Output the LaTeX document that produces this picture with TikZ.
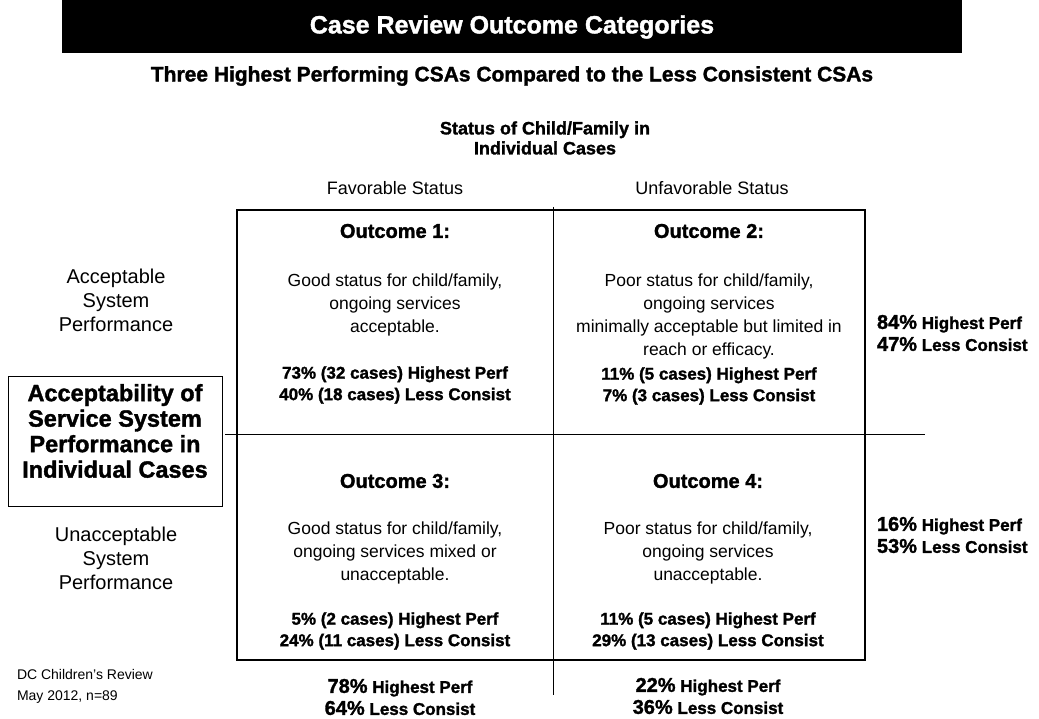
\documentclass[tikz,border=0pt]{standalone}
\usepackage{fontspec}
\setmainfont{Liberation Sans}
\newfontface\heavy{Liberation Sans Bold}[FakeBold=1.5]
\newcommand{\pct}[1]{{\fontsize{20}{22}\selectfont #1}}
\begin{document}
\begin{tikzpicture}[x=1pt,y=1pt,
  every node/.style={inner sep=0pt, outer sep=0pt, align=center},
  body/.style={font=\fontsize{17.5}{23}\selectfont},
  colhead/.style={font=\fontsize{18}{22}\selectfont},
  side/.style={font=\fontsize{20}{24}\selectfont},
  outc/.style={font=\heavy\fontsize{20}{23}\selectfont},
  stat/.style={font=\heavy\fontsize{17}{21.5}\selectfont},
  bigstat/.style={font=\heavy\fontsize{17}{22}\selectfont},
  heading/.style={font=\heavy\fontsize{21}{22}\selectfont},
  grid/.style={line width=1pt},
  frame/.style={line width=2.5pt}
]
\useasboundingbox (0,0) rectangle (1039,-719);
% banner
\fill[black] (62,0) rectangle (962,-53);
\node[font=\heavy\fontsize{25}{27}\selectfont, text=white] (title) at (512,-27) {Case Review Outcome Categories};
\node[heading] (sub) at (512,-76) {Three Highest Performing CSAs Compared to the Less Consistent CSAs};
\node[font=\heavy\fontsize{18}{20}\selectfont] (status) at (545,-138) {Status of Child/Family in\\Individual Cases};
\node[colhead] (fav) at (395,-188) {Favorable Status};
\node[colhead] (unfav) at (712,-188) {Unfavorable Status};
% grid
\draw[grid] (553,-207) -- (553,-695);
\draw[grid] (225,-434) -- (925,-434);
\draw[frame] (237,-210) rectangle (865,-660);
% left box
\draw[line width=1pt] (8,-376) rectangle (222,-506);
\node[font=\heavy\fontsize{23.5}{25.5}\selectfont] (acc) at (115,-431) {Acceptability of\\Service System\\Performance in\\Individual Cases};
\node[side] (accsys) at (116,-300) {Acceptable\\System\\Performance};
\node[side] (unaccsys) at (116,-558) {Unacceptable\\System\\Performance};
% quadrants
\node[outc] (o1) at (395,-231) {Outcome 1:};
\node[outc] (o2) at (709,-231) {Outcome 2:};
\node[outc] (o3) at (395,-481) {Outcome 3:};
\node[outc] (o4) at (708,-481) {Outcome 4:};
\node[body] (q1) at (395,-305) {Good status for child/family,\\ongoing services\\acceptable.};
\node[stat] (s1) at (395,-385) {73\% (32 cases) Highest Perf\\40\% (18 cases) Less Consist};
\node[body] (q2) at (709,-316.5) {Poor status for child/family,\\ongoing services\\minimally acceptable but limited in\\reach or efficacy.};
\node[stat] (s2) at (709,-386) {11\% (5 cases) Highest Perf\\7\% (3 cases) Less Consist};
\node[body] (q3) at (395,-553) {Good status for child/family,\\ongoing services mixed or\\unacceptable.};
\node[stat] (s3) at (395,-631) {5\% (2 cases) Highest Perf\\24\% (11 cases) Less Consist};
\node[body] (q4) at (708,-553) {Poor status for child/family,\\ongoing services\\unacceptable.};
\node[stat] (s4) at (708,-631) {11\% (5 cases) Highest Perf\\29\% (13 cases) Less Consist};
% margins
\node[bigstat, anchor=west, align=left] (r1) at (877,-333) {\pct{84\%} Highest Perf\\\pct{47\%} Less Consist};
\node[bigstat, anchor=west, align=left] (r2) at (877,-535) {\pct{16\%} Highest Perf\\\pct{53\%} Less Consist};
\node[bigstat] (b1) at (400,-697) {\pct{78\%} Highest Perf\\\pct{64\%} Less Consist};
\node[bigstat] (b2) at (708,-696) {\pct{22\%} Highest Perf\\\pct{36\%} Less Consist};
\node[font=\fontsize{14}{21}\selectfont, anchor=west, align=left] (dc) at (17,-686.5) {DC Children's Review\\May 2012, n=89};
\end{tikzpicture}
\end{document}
